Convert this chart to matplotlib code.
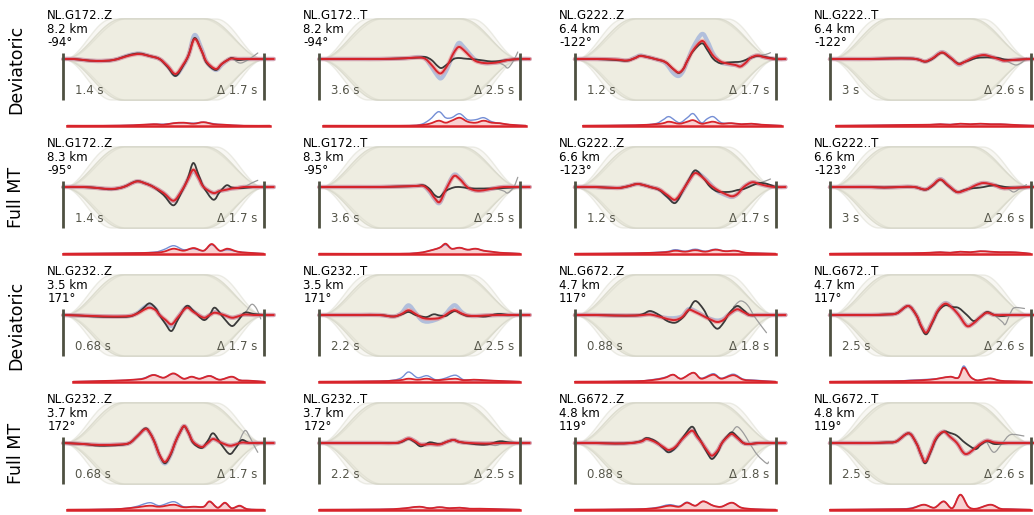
import numpy as np
import matplotlib
matplotlib.use('Agg')
import matplotlib.pyplot as plt
from matplotlib.path import Path
from matplotlib.patches import PathPatch

nan = float('nan')

# ------------------------------------------------------------------ data
# time axis of each panel: 0 = window start bar, 1 = window end bar
# amplitudes: same units for all panels (taper half-height = 40.5)
row_labels = ['Deviatoric', 'Full MT', 'Deviatoric', 'Full MT']

stations = [['NL.G172..Z', 'NL.G172..T', 'NL.G222..Z', 'NL.G222..T'],
            ['NL.G172..Z', 'NL.G172..T', 'NL.G222..Z', 'NL.G222..T'],
            ['NL.G232..Z', 'NL.G232..T', 'NL.G672..Z', 'NL.G672..T'],
            ['NL.G232..Z', 'NL.G232..T', 'NL.G672..Z', 'NL.G672..T']]
distances = [['8.2 km', '8.2 km', '6.4 km', '6.4 km'],
             ['8.3 km', '8.3 km', '6.6 km', '6.6 km'],
             ['3.5 km', '3.5 km', '4.7 km', '4.7 km'],
             ['3.7 km', '3.7 km', '4.8 km', '4.8 km']]
azimuths = [['-94°', '-94°', '-122°', '-122°'],
            ['-95°', '-95°', '-123°', '-123°'],
            ['171°', '171°', '117°', '117°'],
            ['172°', '172°', '119°', '119°']]
start_labels = [['1.4 s', '3.6 s', '1.2 s', '3 s'],
                ['1.4 s', '3.6 s', '1.2 s', '3 s'],
                ['0.68 s', '2.2 s', '0.88 s', '2.5 s'],
                ['0.68 s', '2.2 s', '0.88 s', '2.5 s']]
shift_labels = [['Δ 1.7 s', 'Δ 2.5 s', 'Δ 1.7 s', 'Δ 2.6 s'],
                ['Δ 1.7 s', 'Δ 2.5 s', 'Δ 1.7 s', 'Δ 2.6 s'],
                ['Δ 1.7 s', 'Δ 2.5 s', 'Δ 1.8 s', 'Δ 2.6 s'],
                ['Δ 1.7 s', 'Δ 2.5 s', 'Δ 1.8 s', 'Δ 2.6 s']]

taper_corners = [0.0, 0.29, 0.71, 1.0]
taper_amp = 40.5

# --- Deviatoric, NL.G172..Z
a_t   = [0, .05, .10, .17, .25, .33, .38, .43, .48, .52, .56, .60, .625, .655, .69, .715, .76, .79, .82, .84, .87, .90, .95, 1.0, 1.05]
a_obs = [0, 0, -1, -2, -1, 4, 5.5, 3, 0, -8, -17, -6, 4, 21, 8, -4, -11, -5, -1, 1, -1, -0.5, 0, 0, nan]
a_syn = [0, 0, -1, -2, -1, 3.5, 5, 3, 0, -7, -15, -5, 4, 20, 8, -3, -10, -5, -1, 0.5, 0, 0, 0, 0, 0]
a_ens = [0, 0, -1, -2, -1, 4, 5.5, 3, 0, -7, -16, -6, 4, 24, 10, -3, -11, -6, -1, 0.5, 0, 0, 0, 0, 0]
a_raw = [(.84, 1), (.88, -4), (.92, -1), (.97, 6)]
a_rt    = [.02, .2, .35, .45, .5, .55, .6, .65, .7, .75, .8, .9, 1.03]
a_rred  = [0, 0, 0.5, 1.5, 1, 2.5, 3, 2, 3.5, 1.5, 1, 0, 0]
a_rblue = [0, 0, 0.5, 1.5, 1.5, 2.5, 3, 2.5, 3.5, 2, 1, 0, 0]

# --- Deviatoric, NL.G172..T
b_t   = [0, .1, .2, .3, .4, .45, .50, .53, .56, .59, .61, .64, .67, .695, .72, .75, .78, .82, .86, .90, .94, 1.0, 1.05]
b_obs = [0, 0, 0, 0, 0.5, 1, 1.5, 2, -1, -7, -9, -5, 0, 1, 0.5, 0, -0.5, -1.5, -2.5, -2, -1, 0, nan]
b_syn = [0, 0, 0, 0, 0.5, 1, 1.5, 0, -6, -13, -14, -6, 6, 12, 9, 3, -2, -4, -4, -3, -1, 0, 0]
b_ens = [0, 0, 0, 0, 0.5, 1, 2, 0, -8, -17, -19, -9, 6, 16, 12, 5, -1, -4, -4, -3, -1, 0, 0]
b_raw = [(.88, -2.5), (.92, -6), (.94, -9), (.965, -3), (.99, 7)]
b_rt    = [.02, .4, .5, .55, .595, .63, .66, .70, .74, .78, .82, .86, .90, .95, 1.03]
b_rred  = [0, 0, 0.5, 2, 5, 3, 5, 8, 4, 3, 5, 3, 2.5, 1, 0]
b_rblue = [0, 0, 1, 6, 14, 8, 8, 12, 6, 6, 8, 4, 2.5, 1, 0]

# --- Deviatoric, NL.G222..Z
c_t   = [0, .1, .2, .26, .30, .325, .36, .40, .45, .49, .517, .54, .56, .59, .633, .66, .69, .725, .76, .80, .825, .85, .875, .91, .95, 1.0, 1.05]
c_obs = [0, 0, -1, -1.7, 1, 3.3, 2, 0, -3, -10, -14, -10, -2, 8, 15.7, 9, 0, -4.3, -3.5, -3, -2.7, -1, 1, 3, 2, 0, nan]
c_syn = [0, 0, -0.5, -1.5, 1, 3, 2, 0, -3, -10, -13.5, -10, -2, 9, 18, 12, 3, -2.5, -4.5, -6, -7.5, -4, 1, 3.5, 1.5, 0, 0]
c_ens = [0, 0, -0.5, -1.5, 1.5, 3.5, 2, 0, -4, -14, -17, -12, -2, 12, 25, 18, 5, -3, -5, -6, -7, -4, 1, 3.5, 1.5, 0, 0]
c_raw = [(.91, 3.5), (.95, 4.5), (.975, 6.3)]
c_rt    = [.04, .3, .4, .44, .47, .52, .56, .59, .63, .66, .69, .73, .78, .83, .88, .93, 1.03]
c_rred  = [0, 0.5, 1.5, 2.5, 4, 2, 4, 5.5, 2, 3, 4, 2, 2.5, 1.5, 2, 1, 0]
c_rblue = [0, 0.5, 2, 6, 9, 3, 8, 12, 3, 7, 9, 3, 2.5, 1.5, 2, 1, 0]

# --- Deviatoric, NL.G222..T
d_t   = [0, .1, .2, .3, .4, .44, .475, .51, .558, .60, .64, .67, .70, .73, .767, .80, .84, .87, .91, .95, 1.0, 1.05]
d_obs = [0, 0, 0, 0.5, 0.5, -0.5, -2.7, 0, 6.3, 1, -4.5, -3, -1, 1, 1.5, 1.5, 1, -0.5, -1, -0.5, 0, nan]
d_syn = [0, 0, 0, 0.5, 0.5, -0.5, -2.5, 0.5, 6.5, 1.5, -5, -3, 0, 2.5, 4, 2.5, 0, -1.7, -1, -0.5, 0, 0]
d_ens = [0, 0, 0, 0.5, 0.5, -0.5, -2.5, 0.5, 7, 1.5, -5.5, -3, 0, 2.5, 4, 2.5, 0, -1.7, -1, -0.5, 0, 0]
d_raw = [(.87, -0.5), (.90, -4), (.93, -6), (.96, -3), (.98, 1)]
d_rt    = [.03, .2, .4, .5, .55, .6, .65, .7, .75, .8, .85, .9, .95, 1.03]
d_rred  = [0, 0.3, 0.8, 1, 1.5, 1, 2, 1.5, 2, 1.5, 1.5, 1, 0.5, 0]
d_rblue = [0, 0.3, 0.8, 1, 1.5, 1.2, 2, 1.5, 2, 1.5, 1.5, 1, 0.5, 0]

# --- Full MT, NL.G172..Z
e_t   = [0, .1, .17, .24, .30, .365, .41, .45, .50, .55, .59, .62, .648, .675, .70, .748, .78, .814, .84, .87, .90, .95, 1.0, 1.05]
e_obs = [0, 0, -1, -2.3, 0, 5.7, 3.5, 0, -8, -18.3, -5, 8, 24, 12, 0, -12.7, -5, 1.7, -0.5, -1, -1, 0, 0, nan]
e_syn = [0, 0, -1, -2, 0, 5.5, 3.5, 0, -6, -13.7, -4, 7, 17.3, 9, 0, -6, -4, -2.7, -1.5, -1, 0, 0, 0, 0]
e_ens = [0, 0, -1, -2, 0, 5.5, 3.5, 0, -6, -14, -4, 7, 16, 9, 0, -6, -4, -2.7, -1.5, -1, 0, 0, 0, 0]
e_raw = [(.87, -1), (.90, 0), (.94, 4), (.97, 6.7)]
e_rt    = [0, .3, .45, .5, .55, .6, .65, .7, .74, .78, .82, .87, .92, 1.0]
e_rred  = [0, 0.5, 1, 2, 5, 3, 5.7, 3, 9.7, 3, 5, 2, 1, 0]
e_rblue = [0, 0.5, 1.5, 4, 8, 4, 5, 3, 9, 3, 4, 2, 1, 0]

# --- Full MT, NL.G172..T
f_t   = [0, .1, .2, .3, .4, .48, .52, .55, .575, .60, .63, .67, .70, .737, .77, .80, .84, .88, .92, .96, 1.0, 1.05]
f_obs = [0, 0, 0, 0, 0.5, 1, 1.7, -2, -8, -10, -4, -0.5, 0, -1, -1.5, -1.5, -1.5, -1.5, -1, -0.5, 0, nan]
f_syn = [0, 0, 0, 0, 0.5, 1, 1, -4, -11, -15, -3, 10.7, 8, 0, -3, -3.7, -2.5, -1, 0, 0, 0, 0]
f_ens = [0, 0, 0, 0, 0.5, 1, 1, -5, -12, -16, -3, 12, 9, 0, -3, -3.7, -2.5, -1, 0, 0, 0, 0]
f_raw = [(.88, -1.5), (.92, -4), (.94, -6), (.97, 0), (.99, 9.7)]
f_rt    = [0, .4, .5, .55, .6, .63, .66, .70, .74, .78, .82, .86, .9, .95, 1.0]
f_rred  = [0, 0, 1, 3, 6, 10, 5, 6, 4, 5, 3, 2, 1, 0.5, 0]
f_rblue = [0, 0, 1, 3, 6, 9, 5, 6, 4, 5, 3, 2, 1, 0.5, 0]

# --- Full MT, NL.G222..Z
g_t   = [0, .1, .21, .26, .31, .35, .375, .42, .46, .50, .54, .57, .60, .64, .675, .71, .75, .783, .81, .842, .883, .92, .96, 1.0, 1.05]
g_obs = [0, 0, -1, 0.5, 3, 1.5, 0, -3, -10, -16, -3, 8, 16.7, 9, 0, -4.5, -5, -4.5, -3, -2, 1.5, 4, 3, 0, nan]
g_syn = [0, 0, -1, 0.5, 3, 1.5, 0, -2.5, -8, -12.7, -2.5, 7, 14, 9, 2, -3, -7, -9.3, -7, 0, 4.7, 3, 1, 0, 0]
g_ens = [0, 0, -1, 0.5, 3, 1.5, 0, -2.5, -9, -14, -3, 7, 15, 10, 3, -4, -8, -10, -7, 0, 4.7, 3, 1, 0, 0]
g_raw = [(.92, 4), (.95, 6), (.975, 8)]
g_rt    = [0, .3, .45, .5, .55, .6, .65, .7, .75, .8, .85, .9, 1.0]
g_rred  = [0, 0.5, 1.5, 3, 2, 3.5, 2, 4, 2.5, 3, 1, 0.5, 0]
g_rblue = [0, 0.5, 2, 4, 2.5, 4.5, 2.5, 4.5, 2.5, 3, 1, 0.5, 0]

# --- Full MT, NL.G222..T
h_t   = [0, .1, .2, .27, .35, .42, .475, .51, .55, .59, .633, .67, .70, .73, .767, .817, .86, .90, .95, 1.0, 1.05]
h_obs = [0, 0, 0, -0.5, 0, 0, -2.7, 1, 7.3, 1, -5, -3, -1.5, -1, 0, 1.7, 0.5, -0.5, -0.5, 0, nan]
h_syn = [0, 0, 0, -0.5, 0, 0, -2.5, 1.5, 7.5, 1.5, -5, -3.5, -1, 2, 4, 2, -1, -1, -0.5, 0, 0]
h_ens = [0, 0, 0, -0.5, 0, 0, -2.5, 1.5, 8, 1.5, -5, -3.5, -1, 2, 4, 2, -1, -1, -0.5, 0, 0]
h_raw = [(.86, 0.5), (.89, -2), (.917, -5), (.95, -1), (.98, 2.3)]
h_rt    = [0, .2, .4, .5, .55, .6, .65, .7, .75, .8, .85, .9, .95, 1.0]
h_rred  = [0, 0.3, 0.5, 1, 1.5, 1, 2, 1.5, 2.5, 2, 1.5, 1.5, 1, 0]
h_rblue = [0, 0.3, 0.5, 1, 1.5, 1, 2, 1.5, 2.5, 2, 1.5, 1.5, 1, 0]

# --- Deviatoric, NL.G232..Z
i_t   = [0, .08, .15, .25, .33, .37, .40, .43, .46, .48, .51, .54, .573, .615, .65, .70, .73, .756, .80, .84, .87, .905, .95, 1.0, 1.05]
i_obs = [0, -0.5, -1.5, -2, -1.5, 2, 7, 11.7, 7, 0, -9, -16, -4, 9, 4, -5, 0, 7.3, -3, -11, -6, 2.3, 1, 0, nan]
i_syn = [0, -0.5, -1, -1.5, -1, 1.5, 5, 7.3, 5, 0, -5, -9.3, -2, 7.3, 3, -2.7, 0, 2.3, 0, -2.7, -1.5, 0.5, 0, 0, 0]
i_ens = [0, -0.5, -1, -1.5, -1, 2, 7, 10, 6, 0, -6, -11, -2, 8, 3.5, -2.7, 0, 3, 0, -2.7, -1.5, 0.5, 0, 0, 0]
i_raw = [(.88, -3), (.91, 3), (.94, 10.7), (.965, 6), (.985, -4)]
i_rt    = [.05, .25, .35, .40, .45, .50, .55, .60, .64, .68, .73, .78, .84, .88, .93, 1.0]
i_rred  = [0, 1, 2, 3, 6.7, 4, 8.3, 3, 5, 3, 5.7, 2, 5, 1.5, 1, 0]
i_rblue = [0, 1, 2, 3.5, 7, 4, 8, 3, 5, 3, 6, 2, 5, 1.5, 1, 0]

# --- Deviatoric, NL.G232..T
j_t   = [0, .1, .2, .3, .37, .41, .445, .48, .51, .537, .57, .60, .63, .655, .678, .71, .74, .78, .83, .89, .95, 1.0, 1.05]
j_obs = [0, 0, 0, 0, -1.5, 0.5, 3, 0, -1.5, -2, 0.7, -0.5, -1, 2, 4, 1, -1, -1, -1.5, 1, 0, 0, nan]
j_syn = [0, 0, 0, 0, -1.5, 1, 4.7, 1, -2.5, -3.7, -3.7, -3, 0, 3.5, 4.7, 1.5, -0.5, -1, -0.5, 0, 0, 0, 0]
j_ens = [0, 0, 0, 0, -1.5, 2, 9.7, 2, -5, -6.7, -5.5, -3, 1, 7, 9.7, 3, -0.5, -1, -0.5, 0, 0, 0, 0]
j_raw = [(.90, 0.5), (.94, -1), (.97, 0.5)]
j_rt    = [0, .3, .4, .445, .49, .537, .58, .62, .678, .72, .77, .82, .87, .93, 1.0]
j_rred  = [0, 0.5, 1.5, 3, 2, 3, 1.5, 2, 3, 1.5, 2, 1.5, 1, 0.5, 0]
j_rblue = [0, 0.5, 3, 9.7, 4, 6, 2, 3, 6.5, 2, 2, 1.5, 1, 0.5, 0]

# --- Deviatoric, NL.G672..Z
k_t   = [0, .1, .2, .3, .34, .375, .42, .46, .50, .535, .567, .60, .64, .67, .708, .74, .77, .808, .84, .87, .91, .95, 1.0, 1.05]
k_obs = [0, 0, -0.5, -0.5, 1, 4, 0, -6, -7.7, -3, 5, 14, 6, -5, -13.7, -8, 2, 9, 5, 0, 0, 0, 0, nan]
k_syn = [0, 0, -0.5, -0.5, 0, 0.5, -1.5, -4, -5, -2, 5, 3, -1, -4, -7, -5, 1, 5.7, 3, 0, 0, 0, 0, 0]
k_ens = [0, 0, -0.5, -0.5, 0, 1, -1.5, -3, -3, -1, 6, 4, -0.5, -3.5, -5.5, -4, 1, 5.5, 3, 0, 0, 0, 0, 0]
k_raw = [(.79, 8), (.825, 14), (.86, 10), (.90, -3), (.955, -17.7)]
k_rt    = [0, .3, .4, .45, .49, .53, .59, .63, .69, .73, .79, .84, .9, 1.0]
k_rred  = [0, 0.5, 2, 4, 7, 3, 9, 3, 7, 3, 6.5, 2, 1, 0]
k_rblue = [0, 0.5, 2.5, 4.5, 7, 3, 9, 3.5, 8, 3.5, 7.5, 2.5, 1.5, 0]

# --- Deviatoric, NL.G672..T
l_t   = [0, .1, .2, .28, .333, .39, .43, .455, .48, .51, .54, .575, .61, .642, .683, .717, .75, .783, .82, .86, .90, .95, 1.0, 1.05]
l_obs = [0, 0, 0, 0.5, 1.7, 9, 0, -12, -19.3, -8, 4, 9.7, 8, 7, 0, -6, -2, 3, 0, -1, 0, 0, 0, nan]
l_syn = [0, 0, 0, 0.5, 1.7, 9, 0, -11, -17.7, -7, 5, 11.3, 7, 0, -11, -8, -2, 2.3, 0, 0, 0, 0, 0, 0]
l_ens = [0, 0, 0, 0.5, 1.7, 9, 0, -11, -17, -7, 5, 12, 7.5, 0, -10.5, -8, -2, 2.3, 0, 0, 0, 0, 0, 0]
l_raw = [(.82, 0), (.86, -7), (.875, -9.3), (.90, 2), (.92, 7.3), (.97, 6.5)]
l_rt    = [0, .3, .4, .5, .55, .6, .64, .667, .70, .73, .76, .8, .85, .9, 1.0]
l_rred  = [0, 0.5, 1, 2, 3.5, 5, 4, 14, 5, 1.5, 2, 3.3, 1, 0.5, 0]
l_rblue = [0, 0.5, 1.5, 2.5, 3.5, 5, 4, 15.7, 5, 1.5, 2, 3.3, 1, 0.5, 0]

# --- Full MT, NL.G232..Z
m_t   = [0, .1, .18, .28, .33, .37, .41, .435, .457, .48, .507, .535, .557, .58, .603, .625, .648, .69, .72, .748, .79, .83, .86, .89, .93, 1.0, 1.05]
m_obs = [0, -1, -2.7, -2, 0, 7, 14.7, 9, 0, -12, -20.3, -12, 0, 10, 16.7, 10, 0, -5, 2, 9.7, -2, -11, -5, 3, 0, 0, nan]
m_syn = [0, -1, -2, -1.5, 0, 7, 14, 9, 0, -12, -19, -11, 0, 10, 17, 10, 1, -4, 0, 4, 0, -2.7, -1.5, 0.5, 0, 0, 0]
m_ens = [0, -1, -2, -1.5, 0, 7, 14, 9, 0, -13, -20.5, -12, 0, 10, 17, 10, 1, -4, 0, 4, 0, -2.7, -1.5, 0.5, 0, 0, 0]
m_raw = [(.87, -2), (.905, 12.3), (.93, 6), (.95, -2), (.97, -9.3)]
m_rt    = [.02, .25, .35, .43, .48, .55, .6, .65, .7, .73, .77, .806, .84, .88, .92, 1.0]
m_rred  = [0, 0.5, 2, 4, 3, 5, 2.5, 3, 3, 8.3, 2, 7, 1.5, 4, 0.5, 0]
m_rblue = [0, 0.5, 2.5, 7, 4, 8, 3, 3, 3, 8, 2, 6.5, 1.5, 3.5, 0.5, 0]

# --- Full MT, NL.G232..T
n_t   = [0, .1, .2, .3, .38, .41, .445, .475, .503, .53, .553, .60, .64, .67, .70, .75, .81, .85, .90, .95, 1.0, 1.05]
n_obs = [0, 0, 0, 0, 0, 1, 4, 1, -3.3, -1.5, 0.7, -1, 1.5, 3, 1, -0.5, -1.7, -1, 1.7, 0.5, 0, nan]
n_syn = [0, 0, 0, 0, 0, 1.5, 4.5, 2, -1.5, -1.5, -1, -1.5, 1.5, 3, 1, 0, -0.5, -0.5, 0, 0, 0, 0]
n_ens = [0, 0, 0, 0, 0, 1.5, 4.5, 2, -1.5, -1.5, -1, -1.5, 1.5, 3, 1, 0, -0.5, -0.5, 0, 0, 0, 0]
n_raw = [(.85, -1), (.88, -2.5), (.92, 0.5)]
n_rt    = [0, .3, .4, .45, .5, .55, .6, .65, .7, .75, .8, .9, 1.0]
n_rred  = [0, 0.3, 1, 2, 3, 1.5, 2.5, 1.5, 2, 1, 1, 0.5, 0]
n_rblue = [0, 0.3, 1, 2, 3, 1.5, 2.5, 1.5, 2, 1, 1, 0.5, 0]

# --- Full MT, NL.G672..Z
o_t   = [0, .1, .2, .28, .33, .358, .40, .44, .467, .50, .54, .583, .61, .633, .66, .683, .71, .733, .76, .783, .81, .84, .87, .92, 1.0, 1.05]
o_obs = [0, 0, -0.5, 0, 2, 5, 2, -5, -9.3, -5, 6, 16.3, 8, 0, -10, -16, -10, 0, 7, 10.7, 6, 0, -1, 0, 0, nan]
o_syn = [0, 0, -0.5, 0, 1.5, 4, 1, -4, -7, -4, 5, 12.3, 6, 0, -8, -12.7, -8, 0, 6, 9, 5, 0, -1, 0, 0, 0]
o_ens = [0, 0, -0.5, 0, 1.5, 4, 1, -4.5, -8, -4.5, 5, 12.3, 6, 0, -8, -13, -8, 0, 6, 9, 5, 0, -1, 0, 0, 0]
o_raw = [(.783, 10.7), (.808, 16.3), (.84, 10), (.87, 0), (.91, -12), (.955, -20.3), (.965, -19)]
o_rt    = [0, .3, .4, .47, .52, .558, .6, .64, .69, .73, .783, .83, .9, 1.0]
o_rred  = [0, 0.5, 1.5, 4, 3, 7, 4, 8.3, 4, 3, 7, 2, 0.5, 0]
o_rblue = [0, 0.5, 2, 5, 3.5, 7.5, 4, 8.5, 4, 3, 7, 2, 0.5, 0]

# --- Full MT, NL.G672..T
p_t   = [0, .1, .2, .28, .33, .392, .43, .455, .475, .50, .53, .567, .60, .633, .675, .725, .75, .783, .82, .86, .90, .95, 1.0, 1.05]
p_obs = [0, 0, 0, 0.5, 1.5, 9.7, 0, -12, -20.3, -10, 4, 11.3, 10, 7.3, 0, -6, -2, 1.7, -1, -0.5, 0, 0, 0, nan]
p_syn = [0, 0, 0, 0.5, 1.5, 9.7, 0, -12, -19, -9, 5, 11.3, 6, 0, -11, -5, -1, 2.3, 0.5, 0, 0, 0, 0, 0]
p_ens = [0, 0, 0, 0.5, 1.5, 9.7, 0, -12, -19, -9, 5, 11.3, 6, 0, -11, -5, -1, 2.3, 0.5, 0, 0, 0, 0, 0]
p_raw = [(.78, 1.7), (.817, -9.3), (.86, 0), (.90, 8.3), (.967, 7)]
p_rt    = [0, .3, .4, .467, .52, .567, .61, .65, .69, .73, .8, .85, .9, 1.0]
p_rred  = [0, 0.5, 1, 5, 2, 8.3, 1.5, 15, 3, 1, 5, 1, 0.5, 0]
p_rblue = [0, 0.5, 1.5, 5, 2, 8.3, 1.5, 15, 3, 1, 5, 1, 0.5, 0]

panels = [
    [(a_t, a_obs, a_syn, a_ens, a_raw, a_rt, a_rred, a_rblue),
     (b_t, b_obs, b_syn, b_ens, b_raw, b_rt, b_rred, b_rblue),
     (c_t, c_obs, c_syn, c_ens, c_raw, c_rt, c_rred, c_rblue),
     (d_t, d_obs, d_syn, d_ens, d_raw, d_rt, d_rred, d_rblue)],
    [(e_t, e_obs, e_syn, e_ens, e_raw, e_rt, e_rred, e_rblue),
     (f_t, f_obs, f_syn, f_ens, f_raw, f_rt, f_rred, f_rblue),
     (g_t, g_obs, g_syn, g_ens, g_raw, g_rt, g_rred, g_rblue),
     (h_t, h_obs, h_syn, h_ens, h_raw, h_rt, h_rred, h_rblue)],
    [(i_t, i_obs, i_syn, i_ens, i_raw, i_rt, i_rred, i_rblue),
     (j_t, j_obs, j_syn, j_ens, j_raw, j_rt, j_rred, j_rblue),
     (k_t, k_obs, k_syn, k_ens, k_raw, k_rt, k_rred, k_rblue),
     (l_t, l_obs, l_syn, l_ens, l_raw, l_rt, l_rred, l_rblue)],
    [(m_t, m_obs, m_syn, m_ens, m_raw, m_rt, m_rred, m_rblue),
     (n_t, n_obs, n_syn, n_ens, n_raw, n_rt, n_rred, n_rblue),
     (o_t, o_obs, o_syn, o_ens, o_raw, o_rt, o_rred, o_rblue),
     (p_t, p_obs, p_syn, p_ens, p_raw, p_rt, p_rred, p_rblue)],
]

# ------------------------------------------------------------------ layout / style
W, H = 1034, 515
COL_LEFT = [63.3, 319.3, 575.0, 830.0]   # px, window start bars
WIN_W = 200.5                           # px, window width
ROW_BASE = [59, 187, 315, 443]           # px, trace baselines
RES_OFFSET = 66.7                        # px, residual baseline below trace baseline

C_TAPER = '#eeede1'
C_TAPER_EDGE = '#d3d3c5'
C_BAR = '#4e5041'
C_LABEL = '#555549'
C_OBS = '#3a3a3a'
C_RAW = '#9c9c9c'
C_SYN = '#d8242b'
C_SYN_HALO = '#ee8c8c'
C_ENS = '#7f9ad8'
C_RES_BLUE = '#3a5fc4'

plt.rcParams['font.family'] = ['DejaVu Sans']
fig = plt.figure(figsize=(W / 100, H / 100), dpi=100)


def fbox(x0, y0, w, h):
    """pixel box (top-left origin) -> figure fraction rect"""
    return [x0 / W, 1 - (y0 + h) / H, w / W, h / H]


def smooth_runs(x, y):
    """Bezier (Catmull-Rom) path through the given points, split at NaNs."""
    x = np.asarray(x, float)
    y = np.asarray(y, float)
    ok = ~np.isnan(y)
    verts, codes = [], []
    i = 0
    n = len(x)
    while i < n:
        if not ok[i]:
            i += 1
            continue
        j = i
        while j < n and ok[j]:
            j += 1
        px, py = x[i:j], y[i:j]
        m = len(px)
        verts.append((px[0], py[0]))
        codes.append(Path.MOVETO)
        for k in range(m - 1):
            k0 = max(k - 1, 0)
            k3 = min(k + 2, m - 1)
            c1 = (px[k] + (px[k + 1] - px[k0]) / 6, py[k] + (py[k + 1] - py[k0]) / 6)
            c2 = (px[k + 1] - (px[k3] - px[k]) / 6, py[k + 1] - (py[k3] - py[k]) / 6)
            verts += [c1, c2, (px[k + 1], py[k + 1])]
            codes += [Path.CURVE4] * 3
        i = j
    return Path(verts, codes)


def draw_curve(ax, x, y, **kw):
    patch = PathPatch(smooth_runs(x, y), fill=False, capstyle='round',
                      joinstyle='round', clip_on=False, **kw)
    ax.add_patch(patch)


def fill_curve(ax, x, y, **kw):
    p = smooth_runs(x, y)
    verts = list(p.vertices) + [(x[-1], 0), (x[0], 0), (x[0], y[0])]
    codes = list(p.codes) + [Path.LINETO, Path.LINETO, Path.CLOSEPOLY]
    ax.add_patch(PathPatch(Path(verts, codes), clip_on=False, **kw))


def taper_curve(tt, c0, c1, c2, c3):
    w = np.zeros_like(tt)
    up = (tt >= c0) & (tt < c1)
    w[up] = 0.5 - 0.5 * np.cos(np.pi * (tt[up] - c0) / (c1 - c0))
    w[(tt >= c1) & (tt <= c2)] = 1.0
    dn = (tt > c2) & (tt <= c3)
    w[dn] = 0.5 + 0.5 * np.cos(np.pi * (tt[dn] - c2) / (c3 - c2))
    return w


tt = np.linspace(-0.01, 1.03, 400)
c0, c1, c2, c3 = taper_corners
taper_layers = [(c0, c1, c2, c3),
                (c0, c1 - 0.05, c2 + 0.05, c3),
                (c0 + 0.005, c1 + 0.02, c2 - 0.02, c3 + 0.01)]

for r in range(4):
    base = ROW_BASE[r]
    fig.text(16 / W, 1 - (base + 10) / H, row_labels[r], rotation=90,
             ha='center', va='center', fontsize=12.5, color='black')
    for c in range(4):
        t, obs, syn, ens, raw, rt, rred, rblue = panels[r][c]
        lb = COL_LEFT[c]
        ax = fig.add_axes(fbox(lb, base - 45, WIN_W, 90))
        ax.set_xlim(0, 1)
        ax.set_ylim(-45, 45)
        ax.axis('off')

        # taper envelopes
        for k, (q0, q1, q2, q3) in enumerate(taper_layers):
            w = taper_curve(tt, q0, q1, q2, q3) * taper_amp
            ax.fill_between(tt, -w, w, facecolor=C_TAPER,
                            edgecolor=C_TAPER_EDGE, lw=1.0,
                            alpha=1.0 if k == 0 else 0.4, zorder=1, clip_on=False)

        # window bars
        for xb in (0, 1):
            ax.plot([xb, xb], [6, -40.5], color=C_BAR, lw=2.0,
                    solid_capstyle='butt', zorder=6, clip_on=False)

        draw_curve(ax, t, ens, edgecolor=C_ENS, lw=3.0, alpha=0.55, zorder=2)
        draw_curve(ax, t, syn, edgecolor=C_SYN_HALO, lw=3.2, alpha=0.55, zorder=2.5)
        if raw:
            draw_curve(ax, [p[0] for p in raw], [p[1] for p in raw],
                       edgecolor=C_RAW, lw=0.9, zorder=3)
        draw_curve(ax, t, obs, edgecolor=C_OBS, lw=1.3, zorder=4)
        draw_curve(ax, t, syn, edgecolor=C_SYN, lw=1.4, zorder=5)

        # labels
        ax.text(-0.08, 40, stations[r][c], fontsize=8.5, ha='left', va='baseline',
                color='black', clip_on=False)
        ax.text(-0.08, 26.3, distances[r][c], fontsize=8.5, ha='left', va='baseline',
                color='black', clip_on=False)
        ax.text(-0.08, 12.7, azimuths[r][c], fontsize=8.5, ha='left', va='baseline',
                color='black', clip_on=False)
        ax.text(0.058, -35.3, start_labels[r][c], fontsize=8.5, ha='left', va='baseline',
                color=C_LABEL, zorder=7)
        ax.text(0.97, -35.3, shift_labels[r][c], fontsize=8.5, ha='right', va='baseline',
                color=C_LABEL, zorder=7)

        # residual axes
        rb = base + RES_OFFSET
        axr = fig.add_axes(fbox(lb, rb - 20, WIN_W, 22))
        axr.set_xlim(0, 1)
        axr.set_ylim(-2, 20)
        axr.axis('off')
        fill_curve(axr, rt, rred, facecolor=C_SYN_HALO, alpha=0.4, lw=0)
        draw_curve(axr, rt, rblue, edgecolor=C_RES_BLUE, lw=1.0, alpha=0.7)
        draw_curve(axr, rt, rred, edgecolor=C_SYN, lw=1.3)
        axr.plot([min(rt), max(rt)], [0, 0], color=C_SYN, lw=1.8, clip_on=False)

fig.savefig('out.png', dpi=100)
